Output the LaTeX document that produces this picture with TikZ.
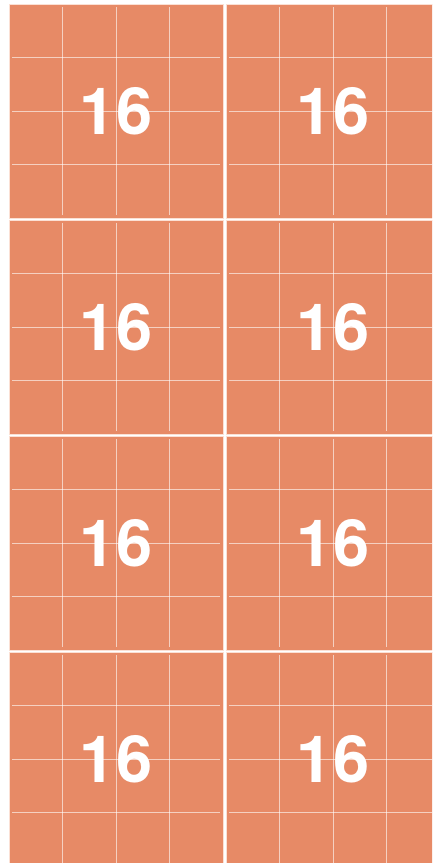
\documentclass[tikz,border=0pt]{standalone}
\usepackage{fontspec}
\setmainfont{TeX Gyre Heros}
\usepackage{tikz}
\usetikzlibrary{positioning}
\definecolor{TileOrange}{HTML}{E78A66}
\definecolor{TileLine}{HTML}{FBE0D4}

\begin{document}
\begin{tikzpicture}[node distance=3pt]
  \tikzstyle{block}=[draw=TileLine,fill=TileOrange,line width=0.8pt,
    outer sep=0pt,minimum width=214pt,minimum height=214pt,
    text=white,font=\bfseries\fontsize{65}{78}\selectfont]
  \tikzstyle{cellline}=[white,opacity=0.6,line width=0.9pt]
  \useasboundingbox (0,0) rectangle (432pt,-863pt);
  \clip (0,0) rectangle (432pt,-863pt);
  \node[block] (b11) at (116pt,-111pt) {16};
  \node[block,right=of b11] (b12) {16};
  \node[block,below=2pt of b11] (b21) {16};
  \node[block,right=of b21] (b22) {16};
  \node[block,below=2pt of b21] (b31) {16};
  \node[block,right=of b31] (b32) {16};
  \node[block,below=2pt of b31] (b41) {16};
  \node[block,right=of b41] (b42) {16};
  % 4x4 cells inside every block
  \foreach \b in {b11,b12,b21,b22,b31,b32,b41,b42}
    \foreach \d in {-53.5,0,53.5} {
      \draw[cellline] ([xshift=\d pt,yshift=-3pt]\b.north) -- ([xshift=\d pt,yshift=3pt]\b.south);
      \draw[cellline] ([xshift=3pt,yshift=\d pt]\b.west) -- ([xshift=-3pt,yshift=\d pt]\b.east);
    }
\end{tikzpicture}
\end{document}
